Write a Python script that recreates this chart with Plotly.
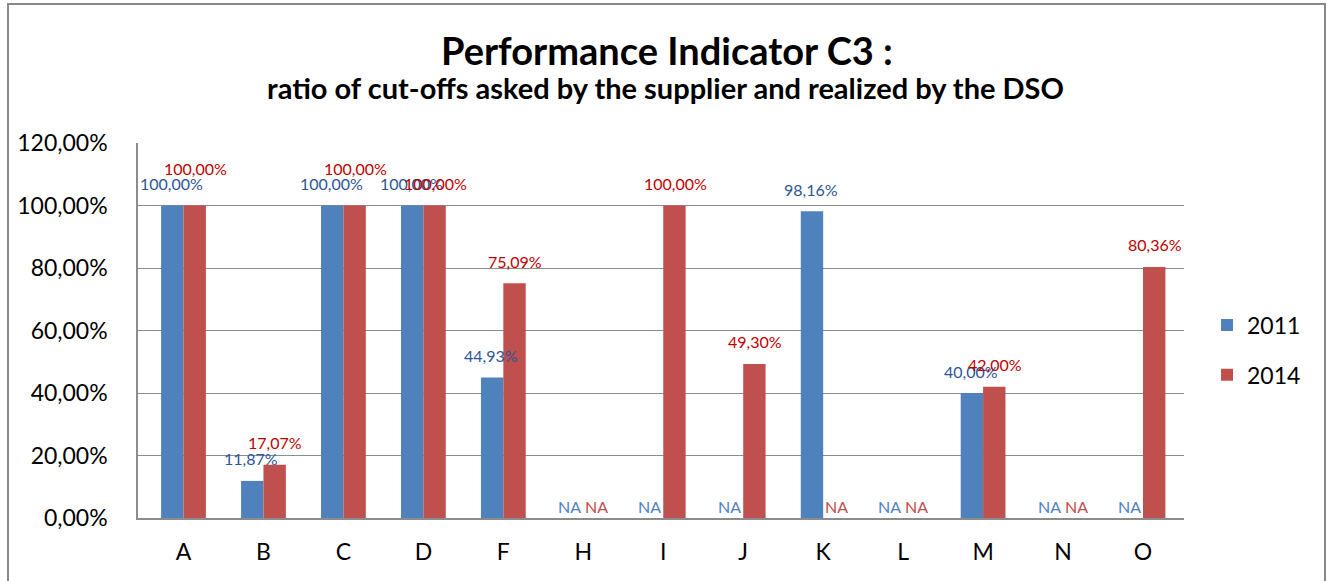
import plotly.graph_objects as go

categories = ["A", "B", "C", "D", "F", "H", "I", "J", "K", "L", "M", "N", "O"]
vals_2011 = [100.00, 11.87, 100.00, 100.00, 44.93, None, None, None, 98.16, None, 40.00, None, None]
vals_2014 = [100.00, 17.07, 100.00, 100.00, 75.09, None, 100.00, 49.30, None, None, 42.00, None, 80.36]
series_names = ["2011", "2014"]
y_ticks = [0, 20, 40, 60, 80, 100, 120]

title_text = "Performance Indicator C3 :"
subtitle_text = "ratio of cut-offs asked by the supplier and realized by the DSO"

BAR_COLORS = {"2011": "#4F81BD", "2014": "#C0504D"}
VAL_LABEL_COLORS = {"2011": "#2C5597", "2014": "#C00000"}
NA_LABEL_COLORS = {"2011": "#4F81BD", "2014": "#C0504D"}
X_SHIFT = {"2011": -12, "2014": 12}
NA_X_SHIFT = {"2011": -14, "2014": 13}
# extra vertical lift for labels that were moved up in the original
EXTRA_LIFT = {("2014", "A"): 15, ("2014", "C"): 15}

FONT = "Lato"

W, H = 1331, 581
# plot area in reference pixels
PX_L, PX_R, PX_T, PX_B = 138, 1184, 143, 518
L = PX_L
R = W - PX_R
T = PX_T
B = H - PX_B
PW = PX_R - PX_L
PH = PX_B - PX_T


def fmt(v):
    return f"{v:.2f}".replace(".", ",") + "%"


def px_to_paper_x(px):
    return (px - PX_L) / PW


def px_to_paper_y(py):
    return (PX_B - py) / PH


fig = go.Figure()
series = {"2011": vals_2011, "2014": vals_2014}
for name in series_names:
    fig.add_trace(go.Bar(
        x=categories, y=series[name], name=name, legendgroup=name,
        marker=dict(color=BAR_COLORS[name], line=dict(width=0)),
        hoverinfo="x+y",
    ))

annotations = []
for name in series_names:
    for cat, v in zip(categories, series[name]):
        if v is None:
            annotations.append(dict(
                x=cat, y=0, xref="x", yref="y", text="NA", showarrow=False,
                xshift=NA_X_SHIFT[name], yshift=12, yanchor="middle",
                font=dict(family=FONT, size=16, color=NA_LABEL_COLORS[name]),
            ))
        else:
            annotations.append(dict(
                x=cat, y=v, xref="x", yref="y", text=fmt(v), showarrow=False,
                xshift=X_SHIFT[name], yshift=22 + EXTRA_LIFT.get((name, cat), 0),
                yanchor="middle",
                font=dict(family=FONT, size=16, color=VAL_LABEL_COLORS[name]),
            ))

annotations.append(dict(
    x=px_to_paper_x(667), y=px_to_paper_y(50), xref="paper", yref="paper",
    text="<b>" + title_text + "</b>", showarrow=False, xanchor="center", yanchor="middle",
    font=dict(family=FONT, size=38, color="#000000"),
))
annotations.append(dict(
    x=px_to_paper_x(665), y=px_to_paper_y(88), xref="paper", yref="paper",
    text="<b>" + subtitle_text + "</b>", showarrow=False, xanchor="center", yanchor="middle",
    font=dict(family=FONT, size=29, color="#000000"),
))

fig.update_layout(
    width=W, height=H,
    margin=dict(l=L, r=R, t=T, b=B, pad=0),
    paper_bgcolor="white", plot_bgcolor="white",
    barmode="group", bargap=0.44, bargroupgap=0,
    font=dict(family=FONT, size=23, color="#000000"),
    showlegend=True,
    legend=dict(
        x=px_to_paper_x(1207), y=px_to_paper_y(350), xanchor="left", yanchor="middle",
        font=dict(family=FONT, size=23, color="#000000"),
        tracegroupgap=17, traceorder="grouped", bgcolor="rgba(0,0,0,0)",
    ),
    annotations=annotations,
    shapes=[dict(
        type="rect", xref="paper", yref="paper",
        x0=px_to_paper_x(8), x1=px_to_paper_x(1325),
        y0=px_to_paper_y(640), y1=px_to_paper_y(4),
        line=dict(color="#898989", width=2), fillcolor="rgba(0,0,0,0)", layer="below",
    )],
)

fig.update_yaxes(
    range=[0, 120], tickvals=y_ticks, ticktext=[fmt(t) for t in y_ticks],
    showgrid=True, gridcolor="#8C8C8C", gridwidth=1,
    showline=True, linecolor="#8C8C8C", linewidth=1.5,
    ticks="", ticklabelstandoff=24, zeroline=False,
    tickfont=dict(family=FONT, size=23, color="#000000"),
    fixedrange=True,
)
fig.update_xaxes(
    showline=True, linecolor="#8C8C8C", linewidth=2,
    ticks="", ticklabelstandoff=12,
    tickfont=dict(family=FONT, size=23, color="#000000"),
    fixedrange=True,
)

fig.write_html(
    "out.html",
    config={"displayModeBar": False},
    post_script="document.body.style.margin='0px';document.body.style.overflow='hidden';",
)
